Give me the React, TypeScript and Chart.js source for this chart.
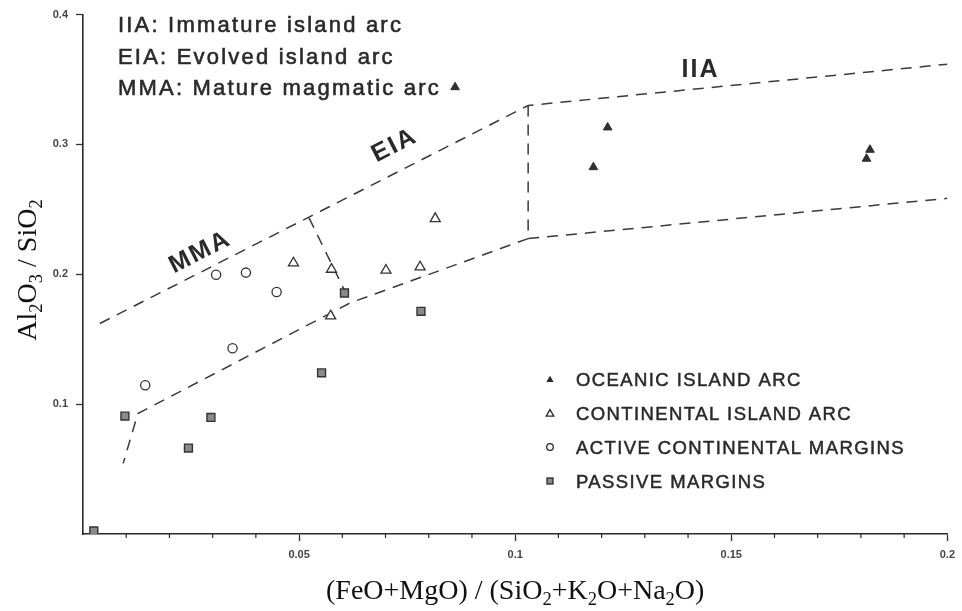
import React, { useEffect, useRef } from 'react';
import { Chart, registerables } from 'chart.js';

Chart.register(...registerables);

// ---- data ----
const oceanicIslandArc: [number, number][] = [
  [0.0861, 0.3441],
  [0.1214, 0.3131],
  [0.1181, 0.2825],
  [0.1821, 0.2959],
  [0.1813, 0.289],
];
const continentalIslandArc: [number, number][] = [
  [0.0487, 0.2087],
  [0.0575, 0.2038],
  [0.0701, 0.2031],
  [0.078, 0.2056],
  [0.0573, 0.1679],
  [0.0815, 0.2428],
];
const activeContinentalMargins: [number, number][] = [
  [0.0308, 0.1996],
  [0.0377, 0.2013],
  [0.0448, 0.1864],
  [0.0346, 0.143],
  [0.0144, 0.1146],
];
const passiveMargins: [number, number][] = [
  [0.0097, 0.0908],
  [0.0296, 0.0898],
  [0.0244, 0.0662],
  [0.0025, 0.0023],
  [0.0605, 0.1856],
  [0.0782, 0.1715],
  [0.0552, 0.1241],
];

// field boundaries
const upperBoundary: [number, number][] = [
  [0.0039, 0.1621],
  [0.103, 0.33],
  [0.2, 0.3618],
];
const iiaDivider: [number, number][] = [
  [0.103, 0.33],
  [0.103, 0.2275],
];
const iiaLowerBoundary: [number, number][] = [
  [0.103, 0.2275],
  [0.2, 0.2585],
];
const lowerBoundary: [number, number][] = [
  [0.103, 0.2275],
  [0.0619, 0.1781],
  [0.0127, 0.0928],
  [0.0093, 0.0544],
];
const mmaEiaDivider: [number, number][] = [
  [0.0523, 0.2435],
  [0.0619, 0.1781],
];

const xTickValues = [0.05, 0.1, 0.15, 0.2];
const xMinorTickValues = [0.01, 0.02, 0.03, 0.04, 0.06, 0.07, 0.08, 0.09, 0.11, 0.12, 0.13, 0.14, 0.16, 0.17, 0.18, 0.19];
const yTickValues = [0.1, 0.2, 0.3, 0.4];

const legendLabels = [
  'OCEANIC ISLAND ARC',
  'CONTINENTAL ISLAND ARC',
  'ACTIVE CONTINENTAL MARGINS',
  'PASSIVE MARGINS',
];
const noteLines = ['IIA: Immature island arc', 'EIA: Evolved island arc', 'MMA: Mature magmatic arc'];
const regionLabels = [
  { text: 'MMA', x: 0.0271, y: 0.2169, angle: -27 },
  { text: 'EIA', x: 0.0721, y: 0.2992, angle: -27 },
  { text: 'IIA', x: 0.1429, y: 0.3569, angle: 0 },
];

type Seg = { t: string; sub?: boolean };
const yTitle: Seg[] = [
  { t: 'Al' }, { t: '2', sub: true }, { t: 'O' }, { t: '3', sub: true }, { t: ' / SiO' }, { t: '2', sub: true },
];
const xTitle: Seg[] = [
  { t: '(FeO+MgO) / (SiO' }, { t: '2', sub: true }, { t: '+K' }, { t: '2', sub: true },
  { t: 'O+Na' }, { t: '2', sub: true }, { t: 'O)' },
];

const SANS = '"Liberation Sans", Arial, sans-serif';
const SERIF = '"Liberation Serif", "Times New Roman", serif';
const INK = '#2a2a2a';

const pts = (a: [number, number][]) => a.map(([x, y]) => ({ x, y }));

function drawRich(ctx: CanvasRenderingContext2D, segs: Seg[], x: number, y: number, size: number) {
  const sub = size * 0.66;
  const widths = segs.map((s) => {
    ctx.font = `${s.sub ? sub : size}px ${SERIF}`;
    return ctx.measureText(s.t).width;
  });
  const total = widths.reduce((a, b) => a + b, 0);
  let cx = x - total / 2;
  segs.forEach((s, i) => {
    ctx.font = `${s.sub ? sub : size}px ${SERIF}`;
    ctx.fillText(s.t, cx, s.sub ? y + size * 0.2 : y);
    cx += widths[i];
  });
}

function fatText(ctx: CanvasRenderingContext2D, t: string, x: number, y: number, w = 0.5) {
  ctx.fillText(t, x, y);
  ctx.lineWidth = w;
  ctx.strokeText(t, x, y);
}

const decorPlugin = {
  id: 'decor',
  afterDraw(chart: any) {
    const ctx: CanvasRenderingContext2D = chart.ctx;
    const xs = chart.scales.x;
    const ys = chart.scales.y;
    ctx.save();
    ctx.fillStyle = INK;
    ctx.strokeStyle = INK;

    // minor x ticks
    ctx.lineWidth = 1.2;
    ctx.beginPath();
    xMinorTickValues.forEach((v) => {
      const px = xs.getPixelForValue(v);
      ctx.moveTo(px, xs.top);
      ctx.lineTo(px, xs.top + 4);
    });
    ctx.stroke();

    // notes
    ctx.textAlign = 'left';
    ctx.textBaseline = 'alphabetic';
    ctx.font = `22px ${SANS}`;
    (ctx as any).letterSpacing = '2.2px';
    noteLines.forEach((t, i) => fatText(ctx, t, 118, 32 + i * 31.5, 0.6));

    // region labels
    ctx.font = `bold 25px ${SANS}`;
    (ctx as any).letterSpacing = '2px';
    ctx.textAlign = 'center';
    ctx.textBaseline = 'middle';
    regionLabels.forEach((r) => {
      ctx.save();
      ctx.translate(xs.getPixelForValue(r.x), ys.getPixelForValue(r.y));
      ctx.rotate((r.angle * Math.PI) / 180);
      ctx.fillText(r.text, 0, 0);
      ctx.restore();
    });

    // legend
    ctx.textAlign = 'left';
    ctx.textBaseline = 'alphabetic';
    ctx.font = `18.5px ${SANS}`;
    (ctx as any).letterSpacing = '1.4px';
    const rowsY = [379, 413, 447, 481];
    const mx = 550;
    legendLabels.forEach((t, i) => fatText(ctx, t, 576, rowsY[i] + 7, 0.5));
    (ctx as any).letterSpacing = '0px';
    // markers
    ctx.lineWidth = 1.3;
    const tri = (cx: number, cy: number, r: number) => {
      ctx.beginPath();
      ctx.moveTo(cx, cy - r);
      ctx.lineTo(cx + r * 0.866, cy + r * 0.5);
      ctx.lineTo(cx - r * 0.866, cy + r * 0.5);
      ctx.closePath();
    };
    tri(mx, rowsY[0] + 1, 4.2);
    ctx.fill();
    tri(mx, rowsY[1] + 1, 4.4);
    ctx.stroke();
    ctx.beginPath();
    ctx.arc(mx, rowsY[2], 3.3, 0, Math.PI * 2);
    ctx.stroke();
    ctx.fillStyle = '#8a8a8a';
    ctx.fillRect(mx - 3, rowsY[3] - 3, 6, 6);
    ctx.strokeRect(mx - 3, rowsY[3] - 3, 6, 6);
    ctx.fillStyle = INK;

    // axis titles
    ctx.fillStyle = '#111';
    drawRich(ctx, xTitle, (xs.left + xs.right) / 2, 599, 28);
    ctx.save();
    ctx.translate(36, 270);
    ctx.rotate(-Math.PI / 2);
    drawRich(ctx, yTitle, 0, 0, 28);
    ctx.restore();

    ctx.restore();
  },
};

export default function App() {
  const ref = useRef<HTMLCanvasElement>(null);
  useEffect(() => {
    const dashed = (d: [number, number][]) => ({
      data: pts(d),
      showLine: true,
      pointRadius: 0,
      borderColor: '#3a3a3a',
      borderWidth: 1.5,
      borderDash: [11, 8],
      fill: false,
    });
    const chart = new Chart(ref.current as HTMLCanvasElement, {
      type: 'scatter',
      data: {
        datasets: [
          {
            label: 'OCEANIC ISLAND ARC',
            data: pts(oceanicIslandArc),
            pointStyle: 'triangle',
            pointRadius: 5,
            backgroundColor: '#2f2f2f',
            borderColor: '#2f2f2f',
            borderWidth: 1,
          },
          {
            label: 'CONTINENTAL ISLAND ARC',
            data: pts(continentalIslandArc),
            pointStyle: 'triangle',
            pointRadius: 5.8,
            backgroundColor: '#ffffff',
            borderColor: '#333',
            borderWidth: 1.3,
          },
          {
            label: 'ACTIVE CONTINENTAL MARGINS',
            data: pts(activeContinentalMargins),
            pointStyle: 'circle',
            pointRadius: 4.6,
            backgroundColor: '#ffffff',
            borderColor: '#333',
            borderWidth: 1.3,
          },
          {
            label: 'PASSIVE MARGINS',
            data: pts(passiveMargins),
            pointStyle: 'rect',
            pointRadius: 5.6,
            backgroundColor: '#8a8a8a',
            borderColor: '#333',
            borderWidth: 1.4,
          },
          dashed(upperBoundary),
          dashed(iiaDivider),
          dashed(iiaLowerBoundary),
          dashed(lowerBoundary),
          dashed(mmaEiaDivider),
        ] as any,
      },
      options: {
        animation: false,
        responsive: false,
        devicePixelRatio: 1,
        layout: { padding: { top: 14, right: 11, left: 0, bottom: 0 } },
        plugins: { legend: { display: false }, tooltip: { enabled: false } },
        scales: {
          x: {
            type: 'linear',
            min: 0,
            max: 0.2,
            afterBuildTicks: (s: any) => {
              s.ticks = [0, ...xTickValues].map((v) => ({ value: v }));
            },
            afterFit: (s: any) => {
              s.height = 77;
            },
            grid: {
              drawOnChartArea: false,
              drawTicks: true,
              tickLength: 7,
              tickWidth: 1.3,
              tickColor: (c: any) => (c.tick && c.tick.value === 0 ? 'rgba(0,0,0,0)' : '#333'),
            },
            border: { display: true, color: '#2a2a2a', width: 1.6 },
            ticks: {
              autoSkip: false,
              maxRotation: 0,
              padding: 7,
              color: '#444',
              font: { family: SANS, size: 11, weight: 'bold' },
              callback: (v: any) => (v === 0 ? '' : String(v)),
            },
          },
          y: {
            type: 'linear',
            min: 0,
            max: 0.4,
            afterBuildTicks: (s: any) => {
              s.ticks = [0, ...yTickValues].map((v) => ({ value: v }));
            },
            afterFit: (s: any) => {
              s.width = 83;
            },
            grid: {
              drawOnChartArea: false,
              drawTicks: true,
              tickLength: 7,
              tickWidth: 1.3,
              tickColor: (c: any) => (c.tick && c.tick.value === 0 ? 'rgba(0,0,0,0)' : '#333'),
            },
            border: { display: true, color: '#2a2a2a', width: 1.6 },
            ticks: {
              autoSkip: false,
              padding: 8,
              color: '#444',
              font: { family: SANS, size: 11, weight: 'bold' },
              callback: (v: any) => (v === 0 ? '' : String(v)),
            },
          },
        },
      } as any,
      plugins: [decorPlugin],
    });
    return () => chart.destroy();
  }, []);
  return (
    <div style={{ position: 'absolute', left: 0, top: 0, width: 962, height: 611, background: '#fff' }}>
      <canvas ref={ref} width={962} height={611} style={{ display: 'block', width: 962, height: 611 }} />
    </div>
  );
}
